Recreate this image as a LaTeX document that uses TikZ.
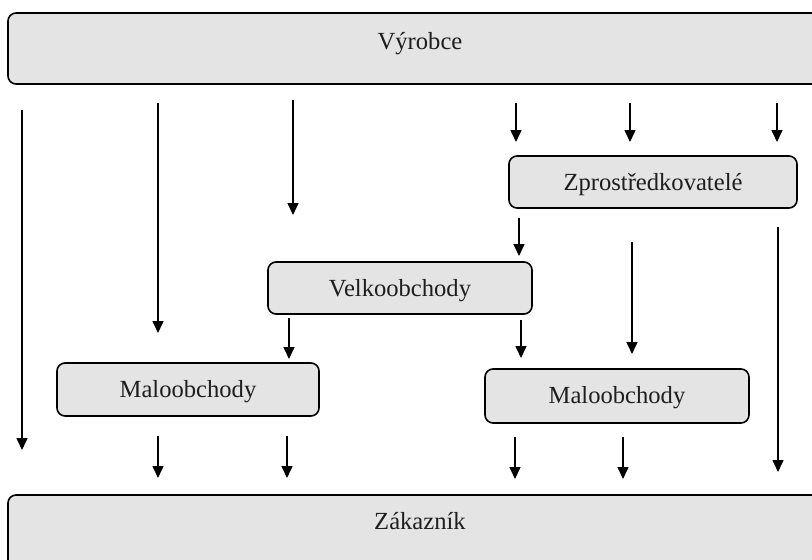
\documentclass[tikz,border=0pt]{standalone}
\usepackage{fontspec}
\setmainfont{Liberation Serif}
\usetikzlibrary{arrows.meta}
\definecolor{boxfill}{HTML}{E4E4E4}
\definecolor{boxtext}{HTML}{1E1E1E}
\tikzset{
  box/.style={draw, line width=1.6pt, rounded corners=8pt, fill=boxfill,
    text=boxtext, font=\fontsize{24.6}{28}\selectfont, inner sep=0pt},
  smallbox/.style={box, text height=34pt, text depth=18pt},
  bigbox/.style={box, minimum width=824pt},
  arr/.style={line width=1.6pt, -{Triangle[length=12pt,width=11pt]}}
}
\begin{document}
\begin{tikzpicture}[x=1pt,y=1pt]
                \clip (0,0) rectangle (812,-560);
                \fill[white] (0,0) rectangle (812,-560);
                \node[bigbox, text height=36pt, text depth=35pt] (vyrobce) at (420,-48.5) {Výrobce};
                \node[bigbox, text height=34pt, text depth=51pt] (zakaznik) at (420,-537.5) {Zákazník};
                \node[smallbox, minimum width=288pt] (zpro) at (653,-182) {Zprostředkovatelé};
                \node[smallbox, minimum width=264pt] (velko) at (400,-288) {Velkoobchody};
                \node[smallbox, minimum width=262pt, text depth=19pt] (maloA) at (188,-389.5) {Maloobchody};
                \node[smallbox, minimum width=264pt, text depth=20pt] (maloB) at (617,-396) {Maloobchody};
                \foreach \i/\x/\ya/\yb in {1/22/110/450, 2/158/103/333, 3/293/100/215,
                    4/516/103/142, 5/630/103/142, 6/777/103/142,
                    7/519/218/256, 8/632/242/354, 9/778/227/472,
                    10/289/318/359, 11/521/320/358,
                    12/158/436/478, 13/287/436/478, 14/515/437/479, 15/623/437/479}
                {
                  \coordinate (s\i) at (\x,-\ya);
                  \coordinate (e\i) at (\x,-\yb);
                  \draw[arr] (s\i) -- (e\i);
                }
            \end{tikzpicture}
\end{document}
